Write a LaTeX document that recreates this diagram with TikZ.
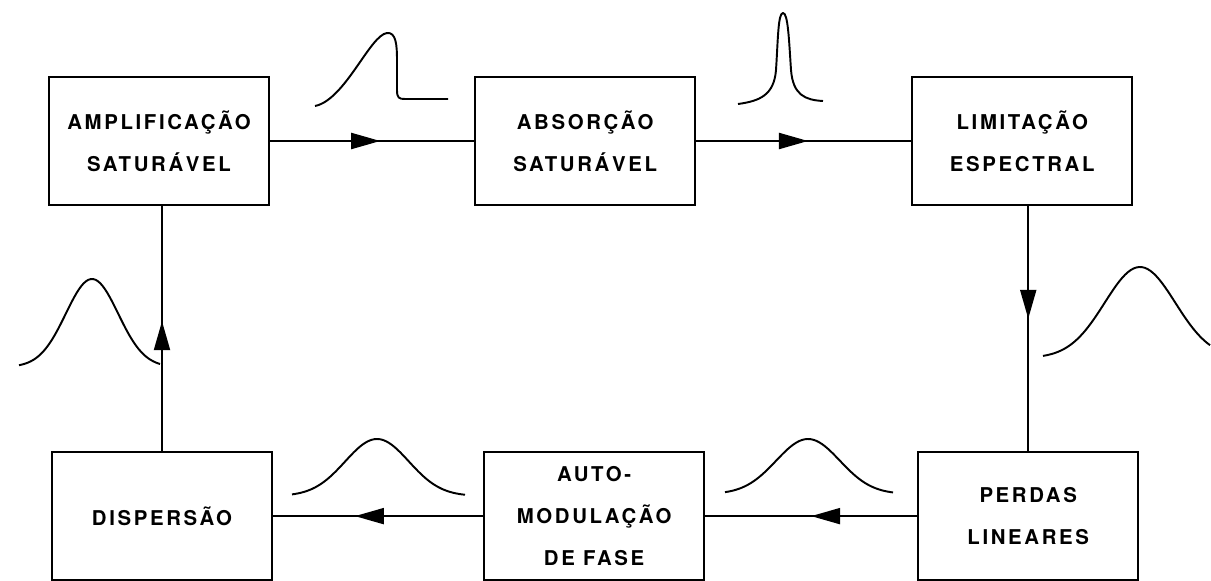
\documentclass[tikz,border=0pt]{standalone}
\usepackage{fontspec}
\newfontfamily\boxfont{TeX Gyre Heros}[LetterSpace=13]
\usetikzlibrary{arrows.meta, positioning}
\usetikzlibrary{decorations.markings}

\begin{document}
\begin{tikzpicture}[
  x=0.2mm, y=-0.2mm,
  every node/.style={font=\boxfont\bfseries\fontsize{11.6pt}{24pt}\selectfont},
  box/.style={draw, rectangle, minimum width=4.4cm, minimum height=2.56cm, align=center},
  flow/.style={postaction={decorate}, decoration={markings,
      mark=at position #1 with {\arrow{Triangle[length=0.58cm, width=0.32cm]}}}},
  pulse/.style={line width=1.1pt, line join=round},
  line width=1.2pt
]
\useasboundingbox (0,0) rectangle (1211,581);

% Nodes
\node[box] (amp) at (159,141) {AMPLIFICAÇÃO\\SATURÁVEL};
\node[box, right=4.08cm of amp] (abs) {ABSORÇÃO\\SATURÁVEL};
\node[box, right=4.3cm of abs] (lim) {LIMITAÇÃO\\ESPECTRAL};
\node[box, below=4.9cm of lim, xshift=0.12cm] (perd) {PERDAS\\LINEARES};
\node[box, left=4.24cm of perd] (spm) {AUTO-\\MODULAÇÃO\\DE FASE};
\node[box, left=4.2cm of spm] (disp) {DISPERSÃO};

% Arrows
\draw[flow=0.54] (amp) -- (abs);
\draw[flow=0.52] (abs) -- (lim);
\draw[flow=0.46] (perd.north |- lim.south) -- (perd.north);
\draw[flow=0.5] (perd) -- (spm);
\draw[flow=0.61] (spm) -- (disp);
\draw[flow=0.53] (disp.north) -- (disp.north |- amp.south);

% Pulses
\draw[pulse] (315,106) .. controls (345,100) and (370,35) .. (387,33)
  .. controls (396,32) and (397,45) .. (397,60) -- (397,90)
  .. controls (397,98) and (399,99) .. (405,99) -- (448,99);
\draw[pulse] (738,104) .. controls (760,101) and (774,95) .. (776,70)
  .. controls (778,40) and (778,13) .. (783,13)
  .. controls (788,13) and (789,40) .. (791,70)
  .. controls (793,95) and (805,100) .. (823,101);
\draw[pulse] plot[domain=-97:70, samples=60] ({1140+\x},{358-91*exp(-(\x*\x)/2500)});
\draw[pulse] plot[domain=-83:85, samples=60] ({808+\x},{494-55*exp(-(\x*\x)/2025)});
\draw[pulse] plot[domain=-85:88, samples=60] ({377+\x},{496-57*exp(-(\x*\x)/2025)});
\draw[pulse] plot[domain=-73:68, samples=60] ({92+\x},{367-88*exp(-(\x*\x)/1369)});
\end{tikzpicture}
\end{document}
